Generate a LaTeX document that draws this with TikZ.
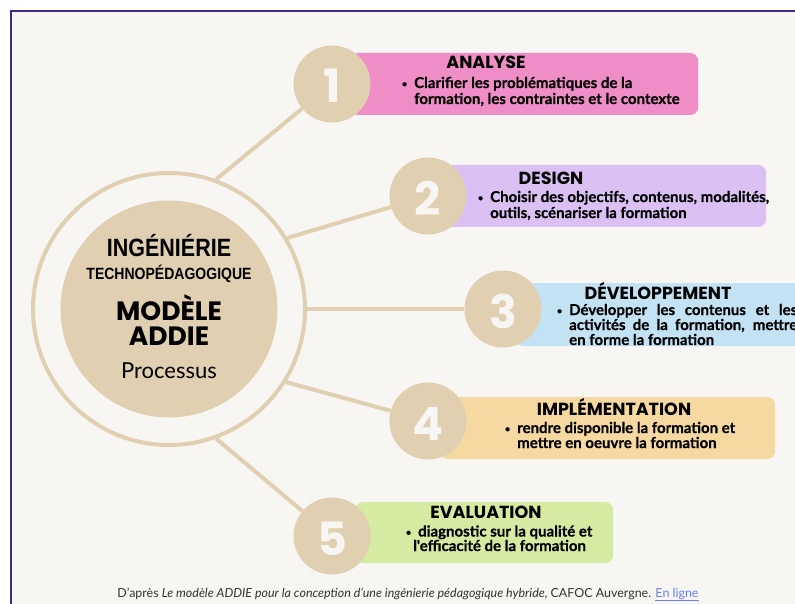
\documentclass[tikz,border=0pt]{standalone}
\usepackage{fontspec}
\setmainfont{Lato}
\newfontfamily\headfamily{Poppins}
\newfontfamily\techfamily{Liberation Sans}[FakeStretch=0.86]
\newfontfamily\heavyfamily{Lato}[BoldFeatures={FakeBold=0.6}]
\usepackage{xcolor}
\usetikzlibrary{positioning}
\definecolor{paper}{HTML}{F7F6F3}
\definecolor{frame}{HTML}{3D2B8E}
\definecolor{sand}{HTML}{E0CFB1}
\definecolor{ink}{HTML}{333333}
\definecolor{pinkbox}{HTML}{EF8DC6}
\definecolor{lilacbox}{HTML}{DAC0F3}
\definecolor{bluebox}{HTML}{C3E3F4}
\definecolor{orangebox}{HTML}{F6D9A0}
\definecolor{greenbox}{HTML}{D6EBA2}
\definecolor{linkblue}{HTML}{6A7FF0}
\newcommand\bodyfont{\heavyfamily\fontsize{15}{16}\selectfont\bfseries}
\newcommand\titlefont{\headfamily\fontsize{17.5}{17.5}\selectfont\bfseries}
\newcommand\numfont{\headfamily\fontsize{46}{46}\selectfont\bfseries}
\newcommand\dotmark{\llap{\raisebox{1pt}{\fontsize{9}{9}\selectfont\textbullet}\hspace{7pt}}}
\tikzset{
  every node/.style={
    inner sep=0pt,
    font=\bodyfont
  },
  hub/.style={
    shape=circle,
    minimum size=272pt,
    draw=sand,
    line width=4pt,
    fill=paper
  },
  core/.style={
    shape=circle,
    minimum size=217pt,
    fill=sand
  },
  stepnum/.style={
    shape=circle,
    minimum size=77pt,
    fill=sand
  },
  stepdigit/.style={
    anchor=base,
    text=paper,
    font=\numfont
  },
  phase/.style={
    shape=rectangle,
    rounded corners=8pt,
    fill=#1,
    minimum height=62pt,
    anchor=west
  },
  phasetitle/.style={
    anchor=base,
    font=\titlefont
  },
  phasetext/.style={
    anchor=base west,
    align=left
  },
  link/.style={
    draw=sand,
    line width=4pt
  }
}

\begin{document}
\begin{tikzpicture}[x=1pt,y=-1pt]
  \useasboundingbox (0,0) rectangle (795,604);
  \clip (0,0) rectangle (795,604);
  \fill[white] (0,0) rectangle (795,604);
  \draw[frame, line width=1.5pt, fill=paper] (11,11) rectangle (830,640);

  \node [hub] (hub) at (169,309) {};
  \node [core] (core) at (hub) {};
  \node [font=\techfamily\fontsize{25}{25}\selectfont\bfseries, anchor=base] (ingenierie) at (169,256) {INGÉNIÉRIE};
  \node [font=\techfamily\fontsize{16.3}{16.3}\selectfont\bfseries, anchor=base] (techno) at (169,279) {TECHNOPÉDAGOGIQUE};
  \node [font=\headfamily\fontsize{26.5}{25}\selectfont\bfseries, anchor=base, align=center] (addie) at (169,345) {MODÈLE\\ADDIE};
  \node [font=\fontsize{22}{22}\selectfont, anchor=base] (processus) at (169,378) {Processus};

  \node [phase=pinkbox, minimum width=348pt] (box1) at (350,84) {};
  \node [phase=lilacbox, minimum width=321pt] (box2) at (445,196) {};
  \node [phase=bluebox, minimum width=310pt, minimum height=63pt] (box3) at (515,314.5) {};
  \node [phase=orangebox, minimum width=335pt] (box4) at (440,428) {};
  \node [phase=greenbox, minimum width=258pt, minimum height=61pt] (box5) at (355,532.5) {};

  \node [stepnum] (n1) at (332,84) {};
  \node [stepnum] (n2) at (428,196) {};
  \node [stepnum] (n3) at (503,309) {};
  \node [stepnum] (n4) at (428,421) {};
  \node [stepnum] (n5) at (332,536) {};

  \draw [link] (hub.70) -- (n1);
  \draw [link] (hub.31) -- (n2);
  \draw [link] (hub.0) -- (n3);
  \draw [link] (hub.-32) -- (n4);
  \draw [link] (hub.-70) -- (n5);

  \node [stepdigit] (d1) at (332,103) {1};
  \node [stepdigit] (d2) at (428,215) {2};
  \node [stepdigit] (d3) at (503,328) {3};
  \node [stepdigit] (d4) at (428,440) {4};
  \node [stepdigit] (d5) at (332,555) {5};

  \node [phasetitle] (t1) at (486,69) {ANALYSE};
  \node [phasetitle] (t2) at (551,185) {DESIGN};
  \node [phasetitle] (t3) at (658,299.5) {DÉVELOPPEMENT};
  \node [phasetitle] (t4) at (614,415) {IMPLÉMENTATION};
  \node [phasetitle] (t5) at (486,518) {EVALUATION};

  \node [phasetext] (p1) at (414,104) {\dotmark Clarifier les problématiques de la\\formation, les contraintes et le contexte};
  \node [phasetext] (p2) at (490,218) {\dotmark Choisir des objectifs, contenus, modalités,\\outils, scénariser la formation};
  \node [phasetext, align=justify, text width=228pt, font=\heavyfamily\fontsize{15}{15}\selectfont\bfseries] (p3) at (569,315) {\dotmark Développer les contenus et les\linebreak activités de la formation, mettre\linebreak en forme la formation};
  \node [phasetext, font=\heavyfamily\fontsize{15}{15}\selectfont\bfseries] (p4) at (517,448) {\dotmark rendre disponible la formation et\\mettre en oeuvre la formation};
  \node [phasetext, font=\heavyfamily\fontsize{15}{14.5}\selectfont\bfseries] (p5) at (418,551) {\dotmark diagnostic sur la qualité et\\\hspace*{-5pt}l'efficacité de la formation};

  \node [anchor=base, text=ink, font=\fontsize{12.45}{12.45}\selectfont] (credit) at (408,597) {D'après \textit{Le modèle ADDIE pour la conception d'une ingénierie pédagogique hybride}, CAFOC Auvergne. \textcolor{linkblue}{\underline{En ligne}}};
\end{tikzpicture}
\end{document}
